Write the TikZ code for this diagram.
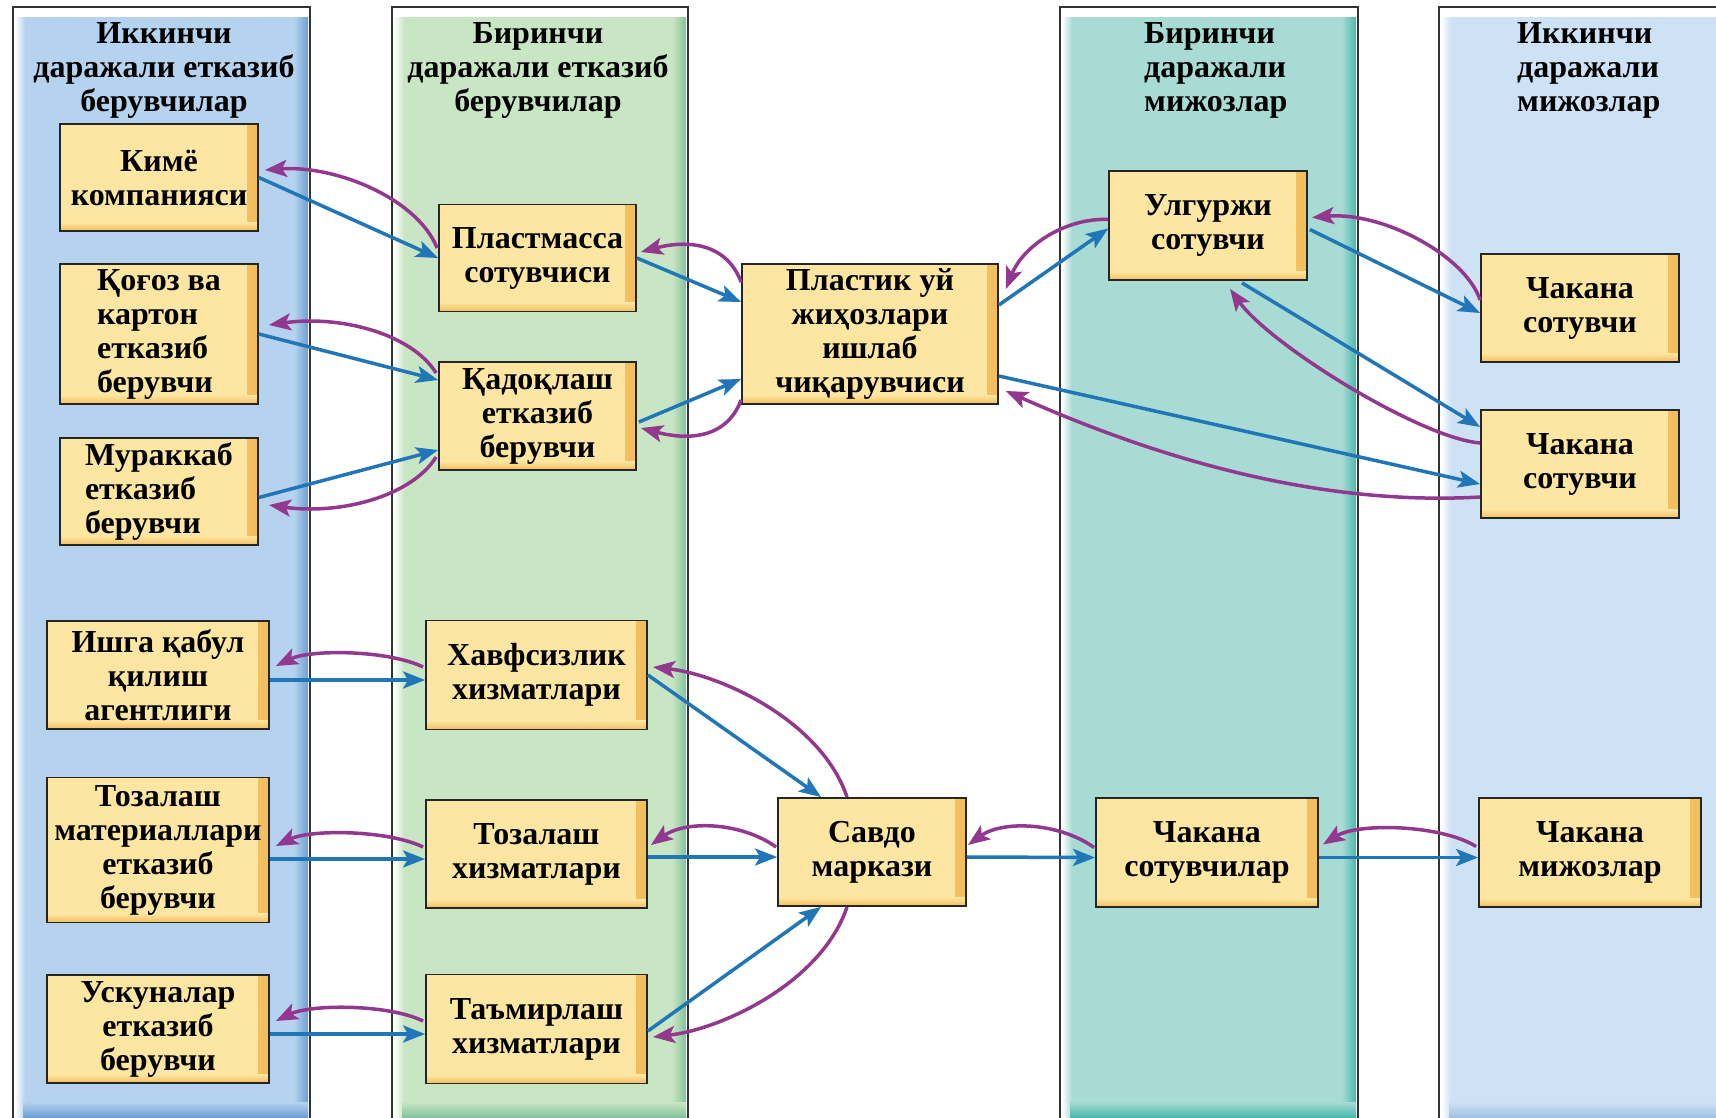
\documentclass[tikz,border=0pt]{standalone}
\usepackage{fontspec}
\setmainfont{Liberation Serif}
\usetikzlibrary{arrows.meta,calc}
\definecolor{colA}{HTML}{B5D3EF}\definecolor{colAd}{HTML}{6E9FD2}
\definecolor{colB}{HTML}{C9E6C4}\definecolor{colBd}{HTML}{84C29D}
\definecolor{colC}{HTML}{A7DBD3}\definecolor{colCd}{HTML}{4DB8AB}
\definecolor{colD}{HTML}{CDE2F5}\definecolor{colDd}{HTML}{A3C2E3}
\definecolor{boxfill}{HTML}{FDE6A2}\definecolor{boxedge}{HTML}{F3BE5C}
\definecolor{arrblue}{HTML}{2176B8}\definecolor{arrpurple}{HTML}{92398F}
\newcommand{\lanebox}[4]{%
  \draw[line width=1.5pt, draw=black!80, fill=white] (#1,7) rectangle (#2,1140);
  \fill[#3] (#1+10,17) rectangle (#2-2,1140);
  \shade[left color=white, right color=#3] (#1+2,17) rectangle (#1+12,1140);
  \shade[left color=#3, right color=#4] (#2-16,17) rectangle (#2-2,1140);
  \shade[top color=#3, bottom color=#4] (#1+10,1102) rectangle (#2-2,1117);
  \draw[line width=1.5pt, draw=black!80] (#1,7) rectangle (#2,1140);
}
\tikzset{
  bx/.style={draw=black!85, line width=1.8pt, fill=boxfill, align=center,
    font=\bfseries\fontsize{32}{34}\selectfont, inner sep=0pt,
    path picture={
      \shade[left color=boxfill, right color=boxedge]
        ([xshift=-11pt]path picture bounding box.north east) rectangle (path picture bounding box.south east);
      \shade[top color=boxfill, bottom color=boxedge]
        ([yshift=9pt]path picture bounding box.south west) rectangle (path picture bounding box.south east);
    }},
  hd/.style={align=center, font=\bfseries\fontsize{32}{34}\selectfont, inner sep=0pt},
  bl/.style={draw=arrblue, line width=3.5pt, -{Stealth[length=22pt,width=17pt,inset=5pt]}},
  pu/.style={draw=arrpurple, line width=3.5pt, -{Stealth[length=22pt,width=17pt,inset=5pt]}},
}
\begin{document}
\begin{tikzpicture}[x=1pt,y=-1pt]
\useasboundingbox (0,0) rectangle (1716,1117);
\clip (0,0) rectangle (1716,1117);
\fill[white] (0,0) rectangle (1716,1117);
\lanebox{13}{310}{colA}{colAd}
\lanebox{392}{688}{colB}{colBd}
\lanebox{1060}{1358}{colC}{colCd}
\lanebox{1439}{1760}{colD}{colDd}

% headers
\node[hd] (h1) at (164,70) {Иккинчи\\даражали етказиб\\берувчилар};
\node[hd] (h2) at (538,70) {Биринчи\\даражали етказиб\\берувчилар};
\node[hd, align=left, anchor=west] (h3) at (1144,70) {Биринчи\\даражали\\мижозлар};
\node[hd, align=left, anchor=west] (h4) at (1517,70) {Иккинчи\\даражали\\мижозлар};

% column 1
\node[bx, minimum width=198, minimum height=107] (kime) at (159,177.5) {Кимё\\компанияси};
\node[bx, minimum width=198, minimum height=140, align=left] (qogoz) at (159,334) {Қоғоз ва\\картон\\етказиб\\берувчи};
\node[bx, minimum width=198, minimum height=107, align=left] (murak) at (159,491.5) {Мураккаб\\етказиб\\берувчи};
\node[bx, minimum width=222, minimum height=108] (ishga) at (158,675) {Ишга қабул\\қилиш\\агентлиги};
\node[bx, minimum width=222, minimum height=145] (tozmat) at (158,850) {Тозалаш\\материаллари\\етказиб\\берувчи};
\node[bx, minimum width=222, minimum height=108] (uskun) at (158,1029) {Ускуналар\\етказиб\\берувчи};
% column 2
\node[bx, minimum width=197, minimum height=107] (plast) at (537.5,258) {Пластмасса\\сотувчиси};
\node[bx, minimum width=197, minimum height=108] (qadoq) at (537.5,416) {Қадоқлаш\\етказиб\\берувчи};
\node[bx, minimum width=221, minimum height=109] (xavf) at (536.5,675) {Хавфсизлик\\хизматлари};
\node[bx, minimum width=221, minimum height=108] (tozxiz) at (536.5,854) {Тозалаш\\хизматлари};
\node[bx, minimum width=221, minimum height=109] (tamir) at (536.5,1029) {Таъмирлаш\\хизматлари};
% middle
\node[bx, minimum width=256, minimum height=140] (plastik) at (870,334) {Пластик уй\\жиҳозлари\\ишлаб\\чиқарувчиси};
\node[bx, minimum width=188, minimum height=108] (savdo) at (872,852) {Савдо\\маркази};
% column 3
\node[bx, minimum width=198, minimum height=109] (ulg) at (1208,225.5) {Улгуржи\\сотувчи};
\node[bx, minimum width=222, minimum height=109] (chsot) at (1207,852.5) {Чакана\\сотувчилар};
% column 4
\node[bx, minimum width=198, minimum height=108] (ch1) at (1580,308) {Чакана\\сотувчи};
\node[bx, minimum width=198, minimum height=108] (ch2) at (1580,464) {Чакана\\сотувчи};
\node[bx, minimum width=222, minimum height=109] (chmij) at (1590,852.5) {Чакана\\мижозлар};

% upper left group
\draw[bl] (kime.east) -- (plast.west);
\draw[pu] ($(plast.west)+(-1,-10)$) .. controls +(-20,-50) and +(70,-5) .. ($(kime.east)+(6,-7.5)$);
\draw[bl] (qogoz.east) -- ($(qadoq.west)+(0,-36)$);
\draw[pu] ($(qadoq.west)+(-2,-43)$) .. controls +(-25,-40) and +(70,-10) .. ($(qogoz.east)+(10,-9)$);
\draw[bl] ($(murak.east)+(0,6)$) -- ($(qadoq.west)+(0,34)$);
\draw[pu] ($(qadoq.west)+(-2,41)$) .. controls +(-25,40) and +(70,10) .. ($(murak.east)+(10,13.5)$);
% to manufacturer
\draw[bl] (plast.east) -- ($(plastik.west)+(0,-32)$);
\draw[pu] ($(plastik.west)+(0,-52)$) .. controls +(-15,-40) and +(45,-12) .. ($(plast.east)+(4,-6)$);
\draw[bl] ($(qadoq.east)+(2,6)$) -- ($(plastik.west)+(0,45)$);
\draw[pu] ($(plastik.west)+(0,66)$) .. controls +(-15,40) and +(45,12) .. ($(qadoq.east)+(4,12)$);
% manufacturer to customers
\draw[bl] ($(plastik.east)+(0,-29)$) -- ($(ulg.west)+(0,3)$);
\draw[pu] ($(ulg.west)+(0,-6)$) .. controls +(-40,-2) and +(18,-45) .. ($(plastik.east)+(7,-45)$);
\draw[bl] ($(plastik.east)+(0,42)$) -- ($(ch2.west)+(0,20)$);
\draw[pu] ($(ch2.west)+(0,33)$) .. controls +(-140,8) and +(180,80) .. ($(plastik.east)+(7,57)$);
\draw[bl] ($(ulg.east)+(2,4)$) -- ($(ch1.west)+(0,5)$);
\draw[pu] ($(ch1.west)+(0,-8)$) .. controls +(-15,-45) and +(70,-6) .. ($(ulg.east)+(4,-8)$);
\draw[bl] ($(ulg.south)+(34,2)$) -- ($(ch2.west)+(0,-37)$);
\draw[pu] ($(ch2.west)+(0,-21)$) .. controls +(-60,-5) and +(40,56) .. ($(ulg.south)+(22,8)$);
% lower left group
\draw[bl] ($(ishga.east)+(0,5)$) -- ($(xavf.west)+(0,5)$);
\draw[pu] ($(xavf.west)+(-2,-8)$) .. controls +(-35,-17) and +(35,-17) .. ($(ishga.east)+(6,-9)$);
\draw[bl] ($(tozmat.east)+(0,9)$) -- ($(tozxiz.west)+(0,5)$);
\draw[pu] ($(tozxiz.west)+(-2,-7)$) .. controls +(-35,-17) and +(35,-17) .. ($(tozmat.east)+(6,-4)$);
\draw[bl] ($(uskun.east)+(0,5)$) -- ($(tamir.west)+(0,5)$);
\draw[pu] ($(tamir.west)+(-2,-8)$) .. controls +(-35,-17) and +(35,-17) .. ($(uskun.east)+(6,-8)$);
% services to mall
\draw[bl] (xavf.east) -- ($(savdo.north west)+(44,0)$);
\draw[pu] ($(savdo.north)+(-25,0)$) .. controls +(-25,-75) and +(70,8) .. ($(xavf.east)+(5,-8)$);
\draw[bl] ($(tozxiz.east)+(0,3)$) -- ($(savdo.west)+(0,5)$);
\draw[pu] ($(savdo.west)+(-1,-5)$) .. controls +(-35,-25) and +(35,-25) .. ($(tozxiz.east)+(3,-9)$);
\draw[bl] ($(tamir.east)+(0,2)$) -- ($(savdo.south west)+(44,0)$);
\draw[pu] ($(savdo.south)+(-25,0)$) .. controls +(-25,75) and +(70,-8) .. ($(tamir.east)+(5,8)$);
% mall to retail
\draw[bl] ($(savdo.east)+(0,5)$) -- ($(chsot.west)+(0,5)$);
\draw[pu] ($(chsot.west)+(-1,-5)$) .. controls +(-35,-25) and +(35,-25) .. ($(savdo.east)+(1,-7)$);
\draw[bl] ($(chsot.east)+(0,5)$) -- ($(chmij.west)+(0,5)$);
\draw[pu] ($(chmij.west)+(-2,-6)$) .. controls +(-35,-22) and +(35,-22) .. ($(chsot.east)+(4,-8)$);
\end{tikzpicture}
\end{document}
